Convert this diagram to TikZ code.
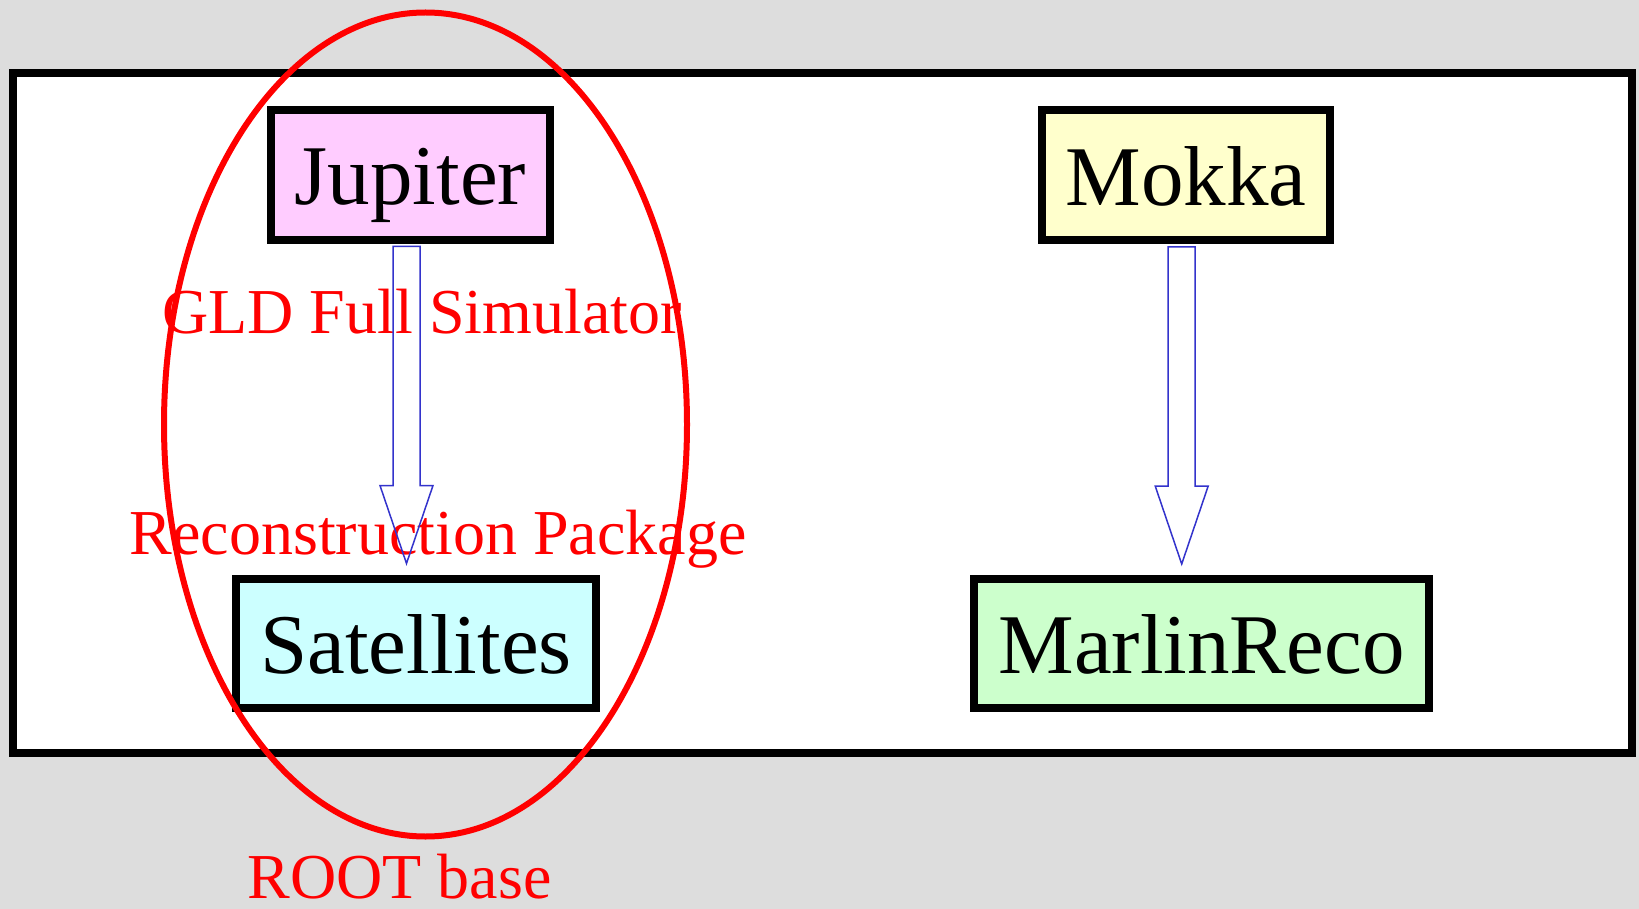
\documentclass[tikz,border=0pt]{standalone}
\usepackage{fontspec}
\setmainfont{Liberation Serif}
\usetikzlibrary{positioning,calc}
\definecolor{bggray}{RGB}{221,221,221}
\definecolor{jupcol}{RGB}{255,204,255}
\definecolor{mokcol}{RGB}{255,255,204}
\definecolor{satcol}{RGB}{204,255,255}
\definecolor{marcol}{RGB}{204,255,204}
\definecolor{arrowblue}{RGB}{51,51,204}

% hollow block arrow from #1 (top of shaft) to #2 (tip)
\newcommand{\hollowarrow}[2]{%
  \draw[fat] ($(#1)+(-13.5,0)$) -- ($(#1)+(13.5,0)$) -- ($(#2)+(13.5,-78)$)
    -- ($(#2)+(26.5,-78)$) -- (#2) -- ($(#2)+(-26.5,-78)$)
    -- ($(#2)+(-13.5,-78)$) -- cycle;}

\begin{document}
\begin{tikzpicture}[x=0.5pt, y=-0.5pt,
    box/.style={rectangle, draw=black, line width=4pt, inner sep=0pt,
                text height=30pt, text depth=0pt, minimum height=65pt,
                font=\fontsize{42.5}{50}\selectfont},
    note/.style={text=red, anchor=base, inner sep=0pt,
                 font=\fontsize{32}{38}\selectfont},
    fat/.style={draw=arrowblue, line width=0.75pt, line join=miter},
    ring/.style={draw=red, line width=3pt}
]
    % background and frame
    \fill[bggray] (0,0) rectangle (1639,909);
    \useasboundingbox (0,0) rectangle (1639,909);
    \draw[line width=4pt, fill=white] (13.3,73) rectangle (1632,753);

    % Packages
    \node[box, fill=jupcol, minimum width=139.5pt] (jup) at (410.5,175) {Jupiter};
    \node[box, fill=mokcol, minimum width=144pt] (mok) at (1186,175.5) {Mokka};
    \node[box, fill=satcol, minimum width=180pt, minimum height=64.5pt] (sat) at (416,643.5) {Satellites};
    \node[box, fill=marcol, minimum width=227.5pt, minimum height=64.5pt] (mar) at (1201.5,643.5) {MarlinReco};

    % ROOT based group
    \draw[ring] (425.5,424.5) ellipse [x radius=261.5, y radius=412];

    % Labels
    \node[note] (gld) at (422,334) {GLD Full Simulator};
    \node[note] (reco) at (438,554) {Reconstruction Package};
    \node[note] (rootlbl) at (399.5,898) {ROOT base};

    % Arrows
    \coordinate (jtop) at ($(jup.south)+(-4,2.5)$);
    \coordinate (jtip) at ($(jtop |- sat.north)+(0,-11.5)$);
    \coordinate (mtop) at ($(mok.south)+(-4.3,2.5)$);
    \coordinate (mtip) at ($(mtop |- mar.north)+(0,-11)$);
    \hollowarrow{jtop}{jtip}
    \hollowarrow{mtop}{mtip}
\end{tikzpicture}
\end{document}
